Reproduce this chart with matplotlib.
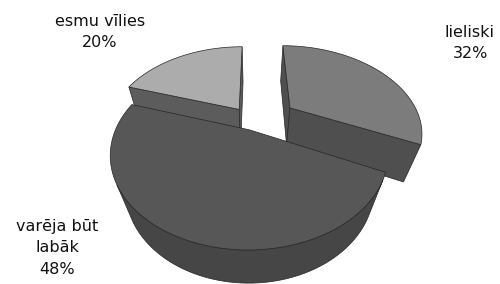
import numpy as np
import matplotlib.pyplot as plt
from matplotlib.patches import Polygon

labels = ["lieliski", "varēja būt\nlabāk", "esmu vīlies"]
values = [32, 48, 20]

top_colors = ["#7c7c7c", "#575757", "#acacac"]
side_colors = ["#4f4f4f", "#464646", "#5c5c5c"]
explode = [0.34, 0.09, 0.2]

# camera for the 3d look
elev = np.radians(46)
dist = 3.0
thick = 0.41
focal = 355
cx, cy = 254, 160

cam = np.array([0, -dist * np.cos(elev), dist * np.sin(elev)])
fwd = np.array([0, np.cos(elev), -np.sin(elev)])
up = np.array([0, np.sin(elev), np.cos(elev)])


def project(pts):
    q = np.asarray(pts) - cam
    d = q @ fwd
    u = q[:, 0] / d
    v = (q @ up) / d
    return np.column_stack([cx + focal * u, cy - focal * v])


def visible(normal, point):
    return np.dot(normal, cam - point) > 0


fig = plt.figure(figsize=(5, 2.84), dpi=100)
ax = fig.add_axes([0, 0, 1, 1])
ax.set_xlim(0, 500)
ax.set_ylim(284, 0)
ax.axis("off")

total = sum(values)
cum = np.cumsum([0] + values)
slices = []
for i, val in enumerate(values):
    a0 = np.radians(90 - 360 * cum[i] / total)
    a1 = np.radians(90 - 360 * cum[i + 1] / total)
    b = (a0 + a1) / 2
    off = explode[i] * np.array([np.cos(b), np.sin(b)])
    mid = np.array([off[0] + 0.5 * np.cos(b), off[1] + 0.5 * np.sin(b), 0])
    depth = (mid - cam) @ fwd
    slices.append((depth, i, a0, a1, off))

# far slices first
slices.sort(key=lambda s: -s[0])

z = 1
for depth, i, a0, a1, off in slices:
    t = np.linspace(a0, a1, 80)
    ox, oy = off
    faces = []

    # radial faces
    for ang, nang in [(a0, a0 + np.pi / 2), (a1, a1 - np.pi / 2)]:
        n = np.array([np.cos(nang), np.sin(nang), 0])
        edge = np.array([ox + np.cos(ang), oy + np.sin(ang)])
        pts = [[ox, oy, 0], [ox, oy, thick], [edge[0], edge[1], thick], [edge[0], edge[1], 0]]
        ctr = np.mean(pts, axis=0)
        if visible(n, ctr):
            faces.append(project(pts))

    # outer curved side, only the part facing the camera
    vis = []
    for a in t:
        n = np.array([np.cos(a), np.sin(a), 0])
        p = np.array([ox + np.cos(a), oy + np.sin(a), thick / 2])
        vis.append(visible(n, p))
    runs = []
    start = None
    for k, v in enumerate(vis):
        if v and start is None:
            start = k
        if not v and start is not None:
            runs.append((start, k))
            start = None
    if start is not None:
        runs.append((start, len(t)))
    for s, e in runs:
        tt = t[s:e]
        topa = np.column_stack([ox + np.cos(tt), oy + np.sin(tt), np.full(len(tt), thick)])
        bota = np.column_stack([ox + np.cos(tt), oy + np.sin(tt), np.zeros(len(tt))])
        faces.append(project(np.vstack([topa, bota[::-1]])))

    for f in faces:
        ax.add_patch(Polygon(f, closed=True, facecolor=side_colors[i],
                             edgecolor="#262626", linewidth=0.5, zorder=z))
        z += 1

    toparc = np.column_stack([ox + np.cos(t), oy + np.sin(t), np.full(len(t), thick)])
    top = np.vstack([[ox, oy, thick], toparc])
    ax.add_patch(Polygon(project(top), closed=True, facecolor=top_colors[i],
                         edgecolor="#262626", linewidth=0.5, zorder=z))
    z += 1

font = dict(fontsize=11.5, color="#111111", ha="center", va="center", linespacing=1.5)
ax.text(100, 32, f"{labels[2]}\n{values[2]}%", **font)
ax.text(470, 43, f"{labels[0]}\n{values[0]}%", **font)
ax.text(57, 248, f"{labels[1]}\n{values[1]}%", **font)

fig.savefig("out.png", dpi=100)
